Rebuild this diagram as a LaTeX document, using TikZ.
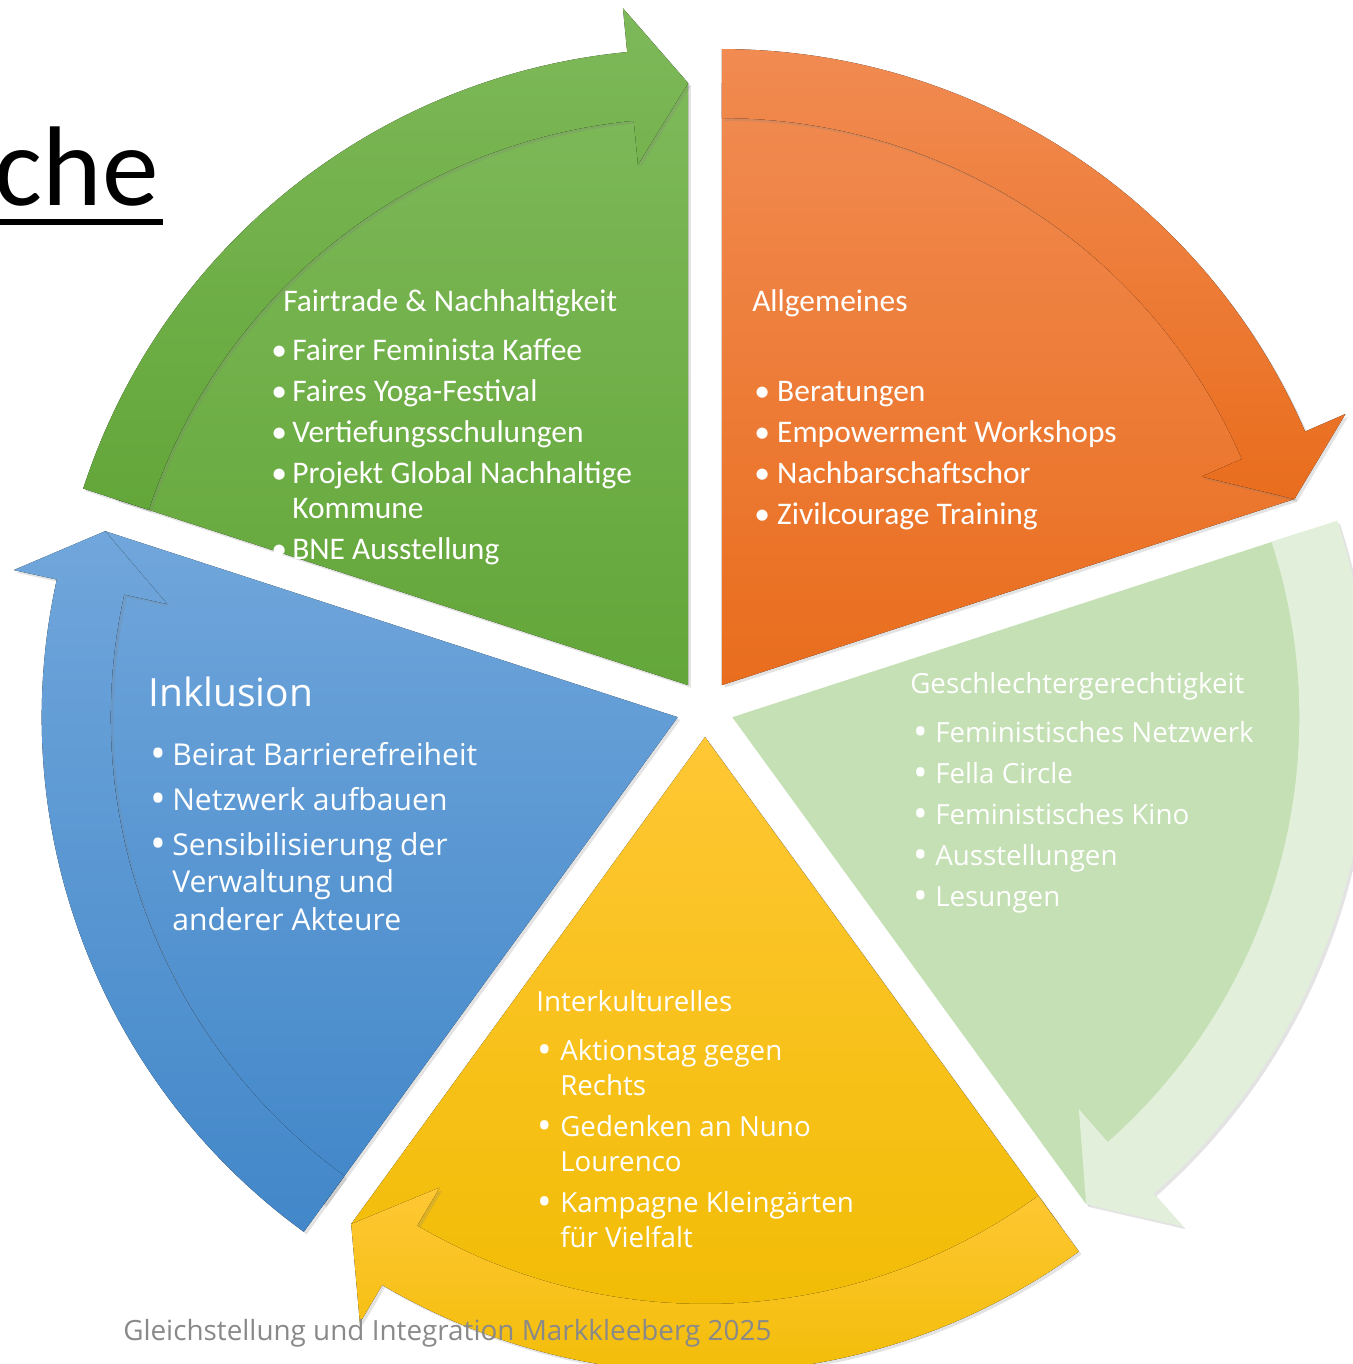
\documentclass[tikz,border=0pt]{standalone}
\usepackage{fontspec}
\usepackage{tikz}
\usetikzlibrary{shadows}
\setmainfont{Carlito}
\newfontfamily\segoe{Open Sans}

\definecolor{grtop}{RGB}{126,185,89}
\definecolor{grbot}{RGB}{99,166,57}
\definecolor{ortop}{RGB}{241,139,82}
\definecolor{orbot}{RGB}{233,109,29}
\definecolor{lgwedge}{RGB}{197,224,180}
\definecolor{lgarrow}{RGB}{226,239,218}
\definecolor{yetop}{RGB}{255,199,52}
\definecolor{yebot}{RGB}{240,187,0}
\definecolor{bltop}{RGB}{112,166,219}
\definecolor{blbot}{RGB}{66,135,201}
\definecolor{footgray}{RGB}{137,137,137}

\newcommand{\itemdot}[1]{\makebox[#1][l]{\textbullet}}
\newcommand{\bigitemdot}[1]{\makebox[#1][l]{\raisebox{-0.12em}{\scalebox{1.4}{\textbullet}}}}

\begin{document}
\begin{tikzpicture}[x=0.75pt,y=0.75pt,yscale=-1,xscale=1,
  segshadow/.style={drop shadow={opacity=0.22,shadow xshift=2pt,shadow yshift=-2pt}},
  greenfill/.style={top color=grtop,bottom color=grbot},
  orangefill/.style={top color=ortop,bottom color=orbot},
  yellowfill/.style={top color=yetop,bottom color=yebot},
  bluefill/.style={top color=bltop,bottom color=blbot},
  headtext/.style={anchor=base west,inner sep=0pt,text=white},
  listtext/.style={anchor=base west,inner sep=0pt,text=white,align=left}]
\useasboundingbox (0,0) rectangle (1353,1364);
\clip (0,0) rectangle (1353,1364);

%Shape: Pie Segment + Arrow [Fairtrade]
\begin{scope}[shift={(688.1,685.1)}]
\fill[greenfill,segshadow] (0,0) -- (-162:602) arc[start angle=-162,end angle=-90,radius=602] -- cycle;
\fill[greenfill,segshadow] (-162:567) -- (-162:636) arc[start angle=-162,end angle=-95.5,radius=636] -- (-95.5:680) -- (-90:602) -- (-95.5:523) -- (-95.5:567) arc[start angle=-95.5,end angle=-162,radius=567] -- cycle;
\end{scope}

%Shape: Pie Segment + Arrow [Allgemeines]
\begin{scope}[shift={(721.9,685.1)}]
\fill[orangefill,segshadow] (0,0) -- (-90:602) arc[start angle=-90,end angle=-18,radius=602] -- cycle;
\fill[orangefill,segshadow] (-90:567) -- (-90:636) arc[start angle=-90,end angle=-23.5,radius=636] -- (-23.5:680) -- (-18:602) -- (-23.5:523) -- (-23.5:567) arc[start angle=-23.5,end angle=-90,radius=567] -- cycle;
\end{scope}

%Shape: Pie Segment + Arrow [Geschlechtergerechtigkeit]
\begin{scope}[shift={(732.3,717.2)}]
\fill[lgwedge,segshadow] (0,0) -- (-18:602) arc[start angle=-18,end angle=54,radius=602] -- cycle;
\fill[lgarrow,segshadow] (-18:567) -- (-18:636) arc[start angle=-18,end angle=48.5,radius=636] -- (48.5:680) -- (54:602) -- (48.5:523) -- (48.5:567) arc[start angle=48.5,end angle=-18,radius=567] -- cycle;
\end{scope}

%Shape: Pie Segment + Arrow [Interkulturelles]
\begin{scope}[shift={(705,737)}]
\fill[yellowfill,segshadow] (0,0) -- (54:602) arc[start angle=54,end angle=126,radius=602] -- cycle;
\fill[yellowfill,segshadow] (54:567) -- (54:636) arc[start angle=54,end angle=120.5,radius=636] -- (120.5:680) -- (126:602) -- (120.5:523) -- (120.5:567) arc[start angle=120.5,end angle=54,radius=567] -- cycle;
\end{scope}

%Shape: Pie Segment + Arrow [Inklusion]
\begin{scope}[shift={(677.7,717.2)}]
\fill[bluefill,segshadow] (0,0) -- (126:602) arc[start angle=126,end angle=198,radius=602] -- cycle;
\fill[bluefill,segshadow] (126:567) -- (126:636) arc[start angle=126,end angle=192.5,radius=636] -- (192.5:680) -- (198:602) -- (192.5:523) -- (192.5:567) arc[start angle=192.5,end angle=126,radius=567] -- cycle;
\end{scope}

%Text: Title rest
\node[anchor=base east,inner sep=0pt,font=\fontsize{85}{100}\selectfont] (titlerest) at (159,205) {che};
\draw[line width=4.5pt] (0,222) -- (163,222);

%Text: Fairtrade
\node[headtext,font=\fontsize{23.6}{26.25}\selectfont] (fairhead) at (283,311) {Fairtrade \& Nachhaltigkeit};
\node[listtext,font=\fontsize{23.6}{26.25}\selectfont] (fairlist) at (271,559) {\itemdot{15.75pt}Fairer Feminista Kaffee\\[4.5pt]
  \itemdot{15.75pt}Faires Yoga-Festival\\[4.5pt]
  \itemdot{15.75pt}Vertiefungsschulungen\\[4.5pt]
  \itemdot{15.75pt}Projekt Global Nachhaltige\\
  \hspace*{15.75pt}Kommune\\[4.5pt]
  \itemdot{15.75pt}BNE Ausstellung};

%Text: Allgemeines
\node[headtext,font=\fontsize{23.6}{26.25}\selectfont] (genhead) at (752,311) {Allgemeines};
\node[listtext,font=\fontsize{23.6}{26.25}\selectfont] (genlist) at (754,524) {\itemdot{17.25pt}Beratungen\\[4.5pt]
  \itemdot{17.25pt}Empowerment Workshops\\[4.5pt]
  \itemdot{17.25pt}Nachbarschaftschor\\[4.5pt]
  \itemdot{17.25pt}Zivilcourage Training};

%Text: Geschlechtergerechtigkeit
\node[headtext,font=\segoe\fontsize{20.8}{30.75}\selectfont] (genderhead) at (910,693) {Geschlechtergerechtigkeit};
\node[listtext,font=\segoe\fontsize{20.8}{30.75}\selectfont] (genderlist) at (913,906) {\bigitemdot{16.5pt}Feministisches Netzwerk\\
  \bigitemdot{16.5pt}Fella Circle\\
  \bigitemdot{16.5pt}Feministisches Kino\\
  \bigitemdot{16.5pt}Ausstellungen\\
  \bigitemdot{16.5pt}Lesungen};

%Text: Interkulturelles
\node[headtext,font=\segoe\fontsize{20.8}{26.25}\selectfont] (interhead) at (536,1011) {Interkulturelles};
\node[listtext,font=\segoe\fontsize{20.8}{26.25}\selectfont] (interlist) at (537,1247) {\bigitemdot{17.25pt}Aktionstag gegen\\
  \hspace*{17.25pt}Rechts\\[4.5pt]
  \bigitemdot{17.25pt}Gedenken an Nuno\\
  \hspace*{17.25pt}Lourenco\\[4.5pt]
  \bigitemdot{17.25pt}Kampagne Kleingärten\\
  \hspace*{17.25pt}für Vielfalt};

%Text: Inklusion
\node[headtext,font=\segoe\fontsize{29.2}{34}\selectfont] (inclhead) at (148,706) {Inklusion};
\node[listtext,font=\segoe\fontsize{22.6}{28.1}\selectfont] (incllist) at (150,930) {\bigitemdot{16.5pt}Beirat Barrierefreiheit\\[5.6pt]
  \bigitemdot{16.5pt}Netzwerk aufbauen\\[5.6pt]
  \bigitemdot{16.5pt}Sensibilisierung der\\
  \hspace*{16.5pt}Verwaltung und\\
  \hspace*{16.5pt}anderer Akteure};

%Text: Footer
\node[anchor=base west,inner sep=0pt,text=footgray,font=\segoe\fontsize{20.9}{25}\selectfont] (footer) at (123,1340) {Gleichstellung und Integration Markkleeberg 2025};

\end{tikzpicture}
\end{document}
